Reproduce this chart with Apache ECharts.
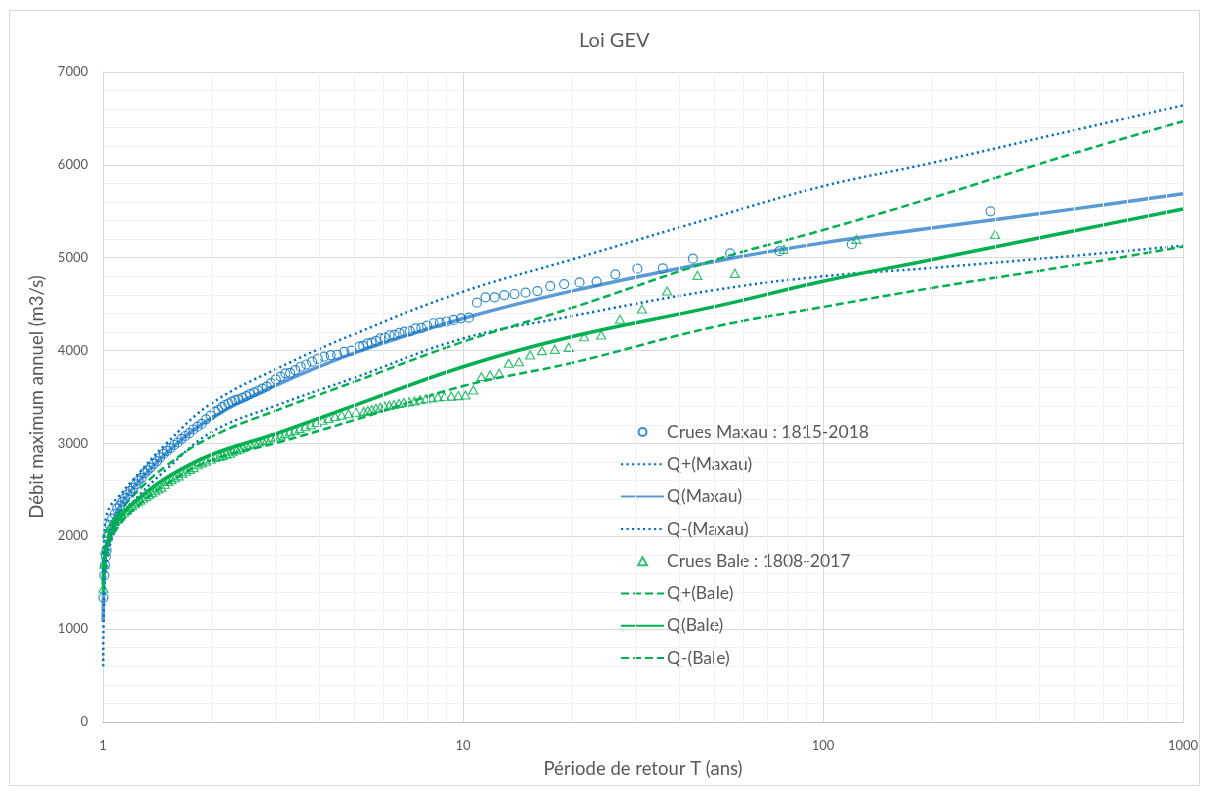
<!DOCTYPE html>
<html>
<head>
<meta charset="utf-8">
<title>Loi GEV</title>
<script src="https://cdn.jsdelivr.net/npm/echarts@6/dist/echarts.min.js"></script>
<style>
  html, body { margin: 0; padding: 0; background: #fff; }
  #chart { width: 1206px; height: 791px; }
</style>
</head>
<body>
<div id="chart"></div>
<script>
  // observed floods, Maxau (return period T, discharge m3/s)
  const maxauT = [292.0, 120.2, 75.7, 55.2, 43.5, 35.9, 30.5, 26.5, 23.5, 21.07, 19.10, 17.47, 16.09, 14.92, 13.90, 13.02, 12.24, 11.55, 10.93, 10.38,
    9.87, 9.42, 9.00, 8.62, 8.28, 7.95, 7.66, 7.38, 7.12, 6.88, 6.66, 6.45, 6.25, 6.07, 5.89, 5.73, 5.57, 5.42, 5.28, 5.15,
    4.90, 4.68, 4.47, 4.29, 4.11, 3.95, 3.81, 3.67, 3.54, 3.42, 3.31, 3.21, 3.11, 3.02, 2.93, 2.85, 2.77, 2.70, 2.63, 2.56,
    2.50, 2.44, 2.38, 2.33, 2.28, 2.23, 2.18, 2.14, 2.09, 2.05,
    1.990, 1.934, 1.880, 1.830, 1.782, 1.737, 1.693, 1.652, 1.613, 1.576, 1.540, 1.506, 1.474, 1.442, 1.413, 1.384, 1.356,
    1.330, 1.305, 1.280, 1.256, 1.234, 1.212, 1.191, 1.170, 1.150, 1.131, 1.113, 1.095, 1.078, 1.061, 1.044, 1.029,
    1.0235, 1.0185, 1.013, 1.0084, 1.003];
  const maxauQ = [5500, 5145, 5070, 5047, 4990, 4886, 4882, 4821, 4742, 4734, 4716, 4695, 4641, 4623, 4609, 4598, 4573, 4573, 4516, 4354,
    4347, 4330, 4311, 4300, 4294, 4268, 4245, 4240, 4210, 4203, 4190, 4170, 4165, 4140, 4132, 4105, 4085, 4078, 4050, 4042,
    4000, 3985, 3955, 3950, 3934, 3910, 3880, 3850, 3826, 3790, 3760, 3755, 3720, 3690, 3650, 3611, 3590, 3570, 3550, 3530,
    3510, 3490, 3475, 3467, 3450, 3430, 3414, 3390, 3360, 3342,
    3300, 3260, 3210, 3180, 3150, 3110, 3080, 3050, 3010, 2983, 2950, 2920, 2890, 2850, 2810, 2780, 2740,
    2710, 2680, 2630, 2600, 2560, 2520, 2490, 2450, 2410, 2370, 2330, 2300, 2240, 2190, 2120, 2000,
    1850, 1780, 1690, 1580, 1340];

  // observed floods, Bale
  const baleT = [300.6, 123.8, 77.9, 56.9, 44.8, 36.9, 31.4, 27.3, 24.2, 21.7, 19.66, 17.98, 16.57, 15.36, 14.31, 13.40, 12.60, 11.89, 11.25, 10.68,
    10.16, 9.70, 9.27, 8.88, 8.52, 8.19, 7.88, 7.60, 7.33, 7.08, 6.85, 6.64, 6.43, 6.24, 6.06, 5.89, 5.73, 5.58, 5.44, 5.30,
    5.05, 4.81, 4.60, 4.41, 4.23, 4.07, 3.92, 3.78, 3.65, 3.52, 3.41, 3.30, 3.20, 3.11, 3.02, 2.93, 2.85, 2.78, 2.71, 2.64,
    2.57, 2.51, 2.45, 2.40, 2.35, 2.29, 2.25, 2.20, 2.15, 2.11,
    2.048, 1.990, 1.936, 1.884, 1.834, 1.788, 1.743, 1.700, 1.661, 1.622, 1.585, 1.550, 1.517, 1.485, 1.454, 1.425, 1.396, 1.369,
    1.343, 1.318, 1.293, 1.270, 1.247, 1.226, 1.204, 1.184, 1.164, 1.145, 1.127, 1.109, 1.092, 1.075, 1.059, 1.043, 1.028, 1.013,
    1.008, 1.003];
  const baleQ = [5252, 5198, 5090, 4832, 4810, 4641, 4448, 4337, 4168, 4149, 4035, 4013, 3999, 3952, 3880, 3863, 3755, 3737, 3719, 3575,
    3521, 3515, 3510, 3505, 3500, 3490, 3482, 3470, 3458, 3450, 3440, 3430, 3420, 3410, 3400, 3390, 3378, 3365, 3355, 3345,
    3335, 3320, 3305, 3290, 3270, 3250, 3225, 3200, 3180, 3160, 3140, 3125, 3105, 3090, 3072, 3060, 3040, 3030, 3015, 3001,
    2990, 2975, 2960, 2940, 2930, 2910, 2894, 2885, 2870, 2860,
    2850, 2830, 2810, 2790, 2770, 2740, 2720, 2700, 2680, 2650, 2630, 2610, 2590, 2560, 2530, 2510, 2490, 2470,
    2450, 2430, 2410, 2390, 2370, 2350, 2330, 2310, 2280, 2260, 2240, 2210, 2190, 2160, 2130, 2090, 2030, 1850,
    1700, 1440];

  // GEV fitted quantiles and confidence bounds
  const curveT = [1.001, 1.003, 1.01, 1.02, 1.05, 1.1, 1.2, 1.5, 2, 3, 5, 10, 20, 50, 100, 200, 500, 1000];
  const qMaxau      = [1080, 1350, 1650, 1830, 2080, 2290, 2500, 2900, 3270, 3620, 3975, 4345, 4640, 4960, 5160, 5320, 5526, 5690];
  const qMaxauPlus  = [1400, 1700, 2050, 2200, 2330, 2420, 2590, 3000, 3430, 3794, 4180, 4634, 4979, 5438, 5770, 6020, 6375, 6640];
  const qMaxauMinus = [600, 1000, 1450, 1680, 1930, 2120, 2350, 2720, 3120, 3403, 3708, 4130, 4370, 4652, 4800, 4890, 5022, 5130];
  const qBale       = [1480, 1600, 1760, 1870, 2020, 2170, 2340, 2630, 2880, 3100, 3410, 3826, 4149, 4473, 4746, 4979, 5291, 5524];
  const qBalePlus   = [1600, 1700, 1800, 1920, 2080, 2230, 2420, 2760, 3072, 3349, 3665, 4095, 4458, 4975, 5298, 5643, 6127, 6470];
  const qBaleMinus  = [1400, 1520, 1680, 1800, 1960, 2100, 2270, 2560, 2820, 3000, 3252, 3618, 3866, 4257, 4469, 4674, 4921, 5119];

  // minor log grid positions
  const minorX = [2, 3, 4, 5, 6, 7, 8, 9, 20, 30, 40, 50, 60, 70, 80, 90, 200, 300, 400, 500, 600, 700, 800, 900];

  const legendNames = ['Crues Maxau : 1815-2018', 'Q+(Maxau)', 'Q(Maxau)', 'Q-(Maxau)',
    'Crues Bale : 1808-2017', 'Q+(Bale)', 'Q(Bale)', 'Q-(Bale)'];

  const textColor = '#595959';
  const font = 'Lato, "Open Sans", sans-serif';
  const blue = '#0070c0';
  const lightBlue = '#5b9bd5';
  const green = '#00b050';
  const none = 'rgba(255,255,255,0)';

  function pairs(xs, ys) {
    return xs.map((x, i) => [x, ys[i]]);
  }

  function curve(name, ys, color, width, type) {
    return {
      name: name,
      type: 'line',
      data: pairs(curveT, ys),
      smooth: 0.4,
      symbol: 'none',
      z: 3,
      lineStyle: {color: color, width: width, type: type},
      // no marker, also hides the dot in the legend icon
      itemStyle: {color: none, borderWidth: 0},
      emphasis: {disabled: true}
    };
  }

  let chart = echarts.init(document.getElementById('chart'));
  chart.setOption({
    animation: false,
    textStyle: {fontFamily: font},
    title: {
      text: 'Loi GEV',
      left: 574,
      top: 26,
      textStyle: {color: textColor, fontSize: 20, fontWeight: 'normal', fontFamily: font}
    },
    graphic: [{
      type: 'rect',
      silent: true,
      shape: {x: 9.5, y: 10.5, width: 1190, height: 775},
      style: {fill: 'none', stroke: '#d9d9d9', lineWidth: 1}
    }],
    grid: {left: 103, right: 23, top: 72, bottom: 69},
    legend: {
      orient: 'vertical',
      left: 620,
      top: 422,
      padding: 0,
      itemWidth: 43,
      itemHeight: 8,
      itemGap: 12.3,
      data: legendNames.map(n => n === legendNames[4] ? {name: n, icon: 'path://M5,0L10,9L0,9Z'} : {name: n}),
      textStyle: {color: textColor, fontSize: 17.5, lineHeight: 20, fontFamily: font, padding: [0, 0, 0, -2]}
    },
    xAxis: {
      type: 'log',
      logBase: 10,
      min: 1,
      max: 1000,
      name: 'Période de retour T (ans)',
      nameLocation: 'middle',
      nameGap: 38,
      nameTextStyle: {color: textColor, fontSize: 18.5, fontFamily: font},
      axisLine: {show: true, lineStyle: {color: '#bfbfbf', width: 1}},
      axisTick: {show: false},
      axisLabel: {color: textColor, fontSize: 13, margin: 17, formatter: v => String(v)},
      splitLine: {show: true, lineStyle: {color: '#d9d9d9', width: 1}}
    },
    yAxis: {
      type: 'value',
      min: 0,
      max: 7000,
      interval: 1000,
      name: 'Débit maximum annuel (m3/s)',
      nameLocation: 'middle',
      nameGap: 49,
      nameTextStyle: {color: textColor, fontSize: 18.5, fontFamily: font},
      axisLine: {show: true, lineStyle: {color: '#d9d9d9', width: 1}},
      axisTick: {show: false},
      axisLabel: {color: textColor, fontSize: 13, margin: 15, formatter: v => String(v)},
      splitLine: {show: true, lineStyle: {color: '#d9d9d9', width: 1}},
      minorTick: {show: false, splitNumber: 5},
      minorSplitLine: {show: true, lineStyle: {color: '#f2f2f2', width: 1}}
    },
    series: [
      {
        // minor vertical gridlines at 2..9 of each decade
        name: 'minor',
        type: 'line',
        data: [],
        z: 1,
        silent: true,
        markLine: {
          silent: true,
          symbol: ['none', 'none'],
          label: {show: false},
          emphasis: {disabled: true},
          lineStyle: {color: '#f2f2f2', width: 1, type: 'solid'},
          data: minorX.map(v => ({xAxis: v}))
        }
      },
      {
        name: legendNames[0],
        type: 'scatter',
        data: pairs(maxauT, maxauQ),
        symbol: 'circle',
        symbolSize: 9,
        z: 3,
        itemStyle: {color: none, borderColor: blue, borderWidth: 1.2},
        emphasis: {disabled: true}
      },
      curve(legendNames[1], qMaxauPlus, blue, 2.5, [2.2, 3.3]),
      curve(legendNames[2], qMaxau, lightBlue, 3.5, 'solid'),
      curve(legendNames[3], qMaxauMinus, blue, 2.5, [2.2, 3.3]),
      {
        name: legendNames[4],
        type: 'scatter',
        data: pairs(baleT, baleQ),
        symbol: 'triangle',
        symbolSize: [9, 8],
        z: 3,
        itemStyle: {color: none, borderColor: green, borderWidth: 1.2},
        emphasis: {disabled: true}
      },
      curve(legendNames[5], qBalePlus, green, 2.5, [8, 4]),
      curve(legendNames[6], qBale, green, 3.5, 'solid'),
      curve(legendNames[7], qBaleMinus, green, 2.5, [8, 4])
    ]
  });
</script>
</body>
</html>
